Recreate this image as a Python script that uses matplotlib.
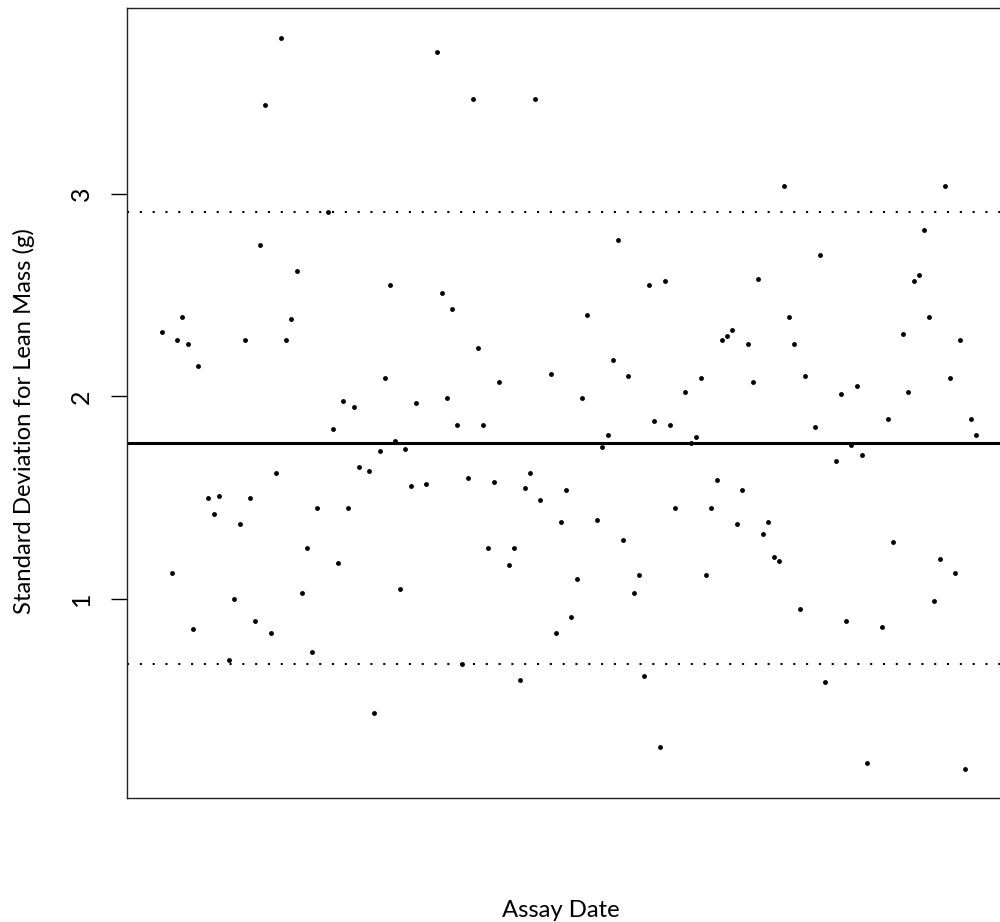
import matplotlib
matplotlib.use("Agg")
import matplotlib.pyplot as plt

plt.rcParams['font.family'] = ['Lato', 'DejaVu Sans']

# Assay date expressed as week index since first assay
assay_week = [0, 2, 3, 4, 5, 6, 7, 9, 10, 11, 13, 14, 15, 16, 17, 18, 19, 20, 21, 22,
              23, 24, 25, 26, 27, 28, 29, 30, 32, 33, 34, 35, 36, 37, 38, 40, 41, 42, 43, 44,
              45, 46, 47, 48, 49, 51, 53, 54, 55, 56, 57, 58, 59, 60, 61, 62, 63, 64, 65, 67,
              68, 69, 70, 71, 72, 73, 75, 76, 77, 78, 79, 80, 81, 82, 84, 85, 86, 87, 88, 89,
              90, 91, 92, 93, 94, 95, 96, 97, 98, 99, 101, 102, 103, 104, 105, 106, 107, 108, 109, 110,
              111, 112, 113, 114, 115, 116, 117, 118, 119, 120, 121, 122, 123, 124, 126, 127, 128, 130, 131, 132,
              133, 134, 135, 136, 139, 140, 141, 143, 144, 145, 146, 147, 148, 149, 150, 151, 152, 153, 154, 155,
              156, 157]

sd_lean = [2.32, 1.13, 2.28, 2.39, 2.26, 0.85, 2.15, 1.50, 1.42, 1.51, 0.70, 1.00, 1.37, 2.28, 1.50, 0.89, 2.75, 3.44, 0.83, 1.62,
           3.77, 2.28, 2.38, 2.62, 1.03, 1.25, 0.74, 1.45, 2.91, 1.84, 1.18, 1.98, 1.45, 1.95, 1.65, 1.63, 0.44, 1.73, 2.09, 2.55,
           1.78, 1.05, 1.74, 1.56, 1.97, 1.57, 3.70, 2.51, 1.99, 2.43, 1.86, 0.68, 1.60, 3.47, 2.24, 1.86, 1.25, 1.58, 2.07, 1.17,
           1.25, 0.60, 1.55, 1.62, 3.47, 1.49, 2.11, 0.83, 1.38, 1.54, 0.91, 1.10, 1.99, 2.40, 1.39, 1.75, 1.81, 2.18, 2.77, 1.29,
           2.10, 1.03, 1.12, 0.62, 2.55, 1.88, 0.27, 2.57, 1.86, 1.45, 2.02, 1.77, 1.80, 2.09, 1.12, 1.45, 1.59, 2.28, 2.30, 2.33,
           1.37, 1.54, 2.26, 2.07, 2.58, 1.32, 1.38, 1.21, 1.19, 3.04, 2.39, 2.26, 0.95, 2.10, 1.85, 2.70, 0.59, 1.68, 2.01, 0.89,
           1.76, 2.05, 1.71, 0.19, 0.86, 1.89, 1.28, 2.31, 2.02, 2.57, 2.60, 2.82, 2.39, 0.99, 1.20, 3.04, 2.09, 1.13, 2.28, 0.16,
           1.89, 1.81]

mean_line = 1.768
upper_limit = 2.912
lower_limit = 0.681

ytick_values = [1, 2, 3]
ytick_labels = ["1", "2", "3"]

fig = plt.figure(figsize=(10.0, 9.22), dpi=100)
ax = fig.add_axes([0.127, 1 - 798 / 922, 0.8815, (798 - 8.3) / 922])

ax.plot(assay_week, sd_lean, linestyle='none', marker='o', markersize=3.5,
        color='black', markeredgewidth=0)
ax.axhline(mean_line, color='black', linewidth=2.2)
for lim in (upper_limit, lower_limit):
    ax.axhline(lim, color='black', linewidth=1.5, linestyle=(0, (1, 5.15)))

ax.set_xlim(-6.7, 163.3)
ax.set_ylim(0.018, 3.916)
ax.set_xticks([])
ax.set_yticks(ytick_values)
ax.set_yticklabels(ytick_labels, rotation=90, va='center', fontsize=18)
ax.tick_params(axis='y', length=11.5, width=1, pad=13, direction='out')
for s in ax.spines.values():
    s.set_linewidth(1.0)
    s.set_color('#222222')

fig.text(31 / 1000, 1 - 421.5 / 922, "Standard Deviation for Lean Mass (g)",
         rotation=90, rotation_mode='anchor', ha='center', va='baseline', fontsize=17.2)
fig.text(0.561, 1 - 917 / 922, "Assay Date", ha='center', va='baseline', fontsize=17.2)

fig.savefig("out.png", dpi=100)
